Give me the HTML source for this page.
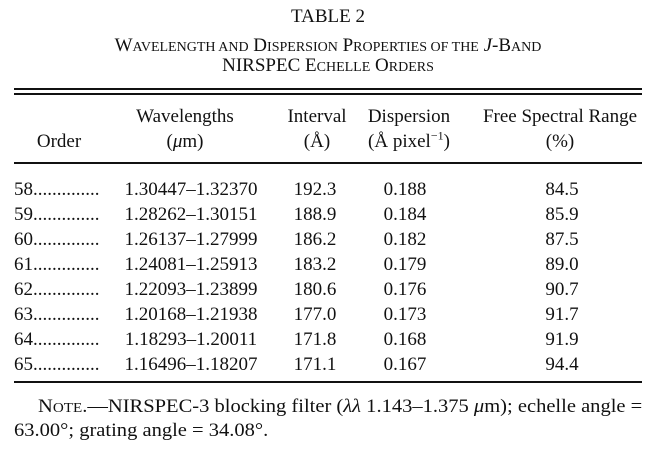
<!DOCTYPE html>
<html><head><meta charset="utf-8"><style>
body{margin:0;background:#fff;width:656px;height:450px;overflow:hidden;position:relative;font-family:"Liberation Serif",serif;color:#111;font-size:19px}
.t{position:absolute;white-space:nowrap;line-height:1}
.c{transform:translateX(-50%)}
.r{position:absolute;left:14px;width:628px;background:#111}
.sc{font-size:14px}
.n{transform-origin:left;transform:scaleX(1.08)}
</style></head><body>
<div class="t c" style="left:328px;top:7px">TABLE 2</div>
<div class="t c" style="left:328px;top:36px">W<span class="sc">AVELENGTH AND</span> D<span class="sc">ISPERSION</span> P<span class="sc">ROPERTIES OF THE</span> <i>J</i>-B<span class="sc">AND</span></div>
<div class="t c" style="left:328px;top:56px">NIRSPEC E<span class="sc">CHELLE</span> O<span class="sc">RDERS</span></div>
<div class="r" style="top:88px;height:2px"></div>
<div class="r" style="top:93px;height:2px"></div>
<div class="t c" style="left:59px;top:132px">Order</div>
<div class="t c" style="left:185px;top:107px">Wavelengths</div>
<div class="t c" style="left:185px;top:132px">(<i>μ</i>m)</div>
<div class="t c" style="left:317px;top:107px">Interval</div>
<div class="t c" style="left:317px;top:132px">(Å)</div>
<div class="t c" style="left:409px;top:107px">Dispersion</div>
<div class="t c" style="left:409px;top:132px">(Å pixel<sup style="font-size:12px;line-height:0">−1</sup>)</div>
<div class="t c" style="left:560px;top:107px">Free Spectral Range</div>
<div class="t c" style="left:560px;top:132px">(%)</div>
<div class="r" style="top:162px;height:2px"></div>
<div class="r" style="top:381px;height:2px"></div>
<div class="t n" style="left:38px;top:397px">N<span class="sc">OTE</span>.—NIRSPEC-3 blocking filter (<i>λλ</i> 1.143–1.375 <i>μ</i>m); echelle angle =</div>
<div class="t n" style="left:14px;top:421px">63.00°; grating angle = 34.08°.</div>
<div class="t" style="left:14px;top:180px">58..............</div><div class="t c" style="left:191px;top:180px">1.30447–1.32370</div><div class="t c" style="left:315px;top:180px">192.3</div><div class="t c" style="left:405px;top:180px">0.188</div><div class="t c" style="left:562px;top:180px">84.5</div>
<div class="t" style="left:14px;top:205px">59..............</div><div class="t c" style="left:191px;top:205px">1.28262–1.30151</div><div class="t c" style="left:315px;top:205px">188.9</div><div class="t c" style="left:405px;top:205px">0.184</div><div class="t c" style="left:562px;top:205px">85.9</div>
<div class="t" style="left:14px;top:230px">60..............</div><div class="t c" style="left:191px;top:230px">1.26137–1.27999</div><div class="t c" style="left:315px;top:230px">186.2</div><div class="t c" style="left:405px;top:230px">0.182</div><div class="t c" style="left:562px;top:230px">87.5</div>
<div class="t" style="left:14px;top:255px">61..............</div><div class="t c" style="left:191px;top:255px">1.24081–1.25913</div><div class="t c" style="left:315px;top:255px">183.2</div><div class="t c" style="left:405px;top:255px">0.179</div><div class="t c" style="left:562px;top:255px">89.0</div>
<div class="t" style="left:14px;top:280px">62..............</div><div class="t c" style="left:191px;top:280px">1.22093–1.23899</div><div class="t c" style="left:315px;top:280px">180.6</div><div class="t c" style="left:405px;top:280px">0.176</div><div class="t c" style="left:562px;top:280px">90.7</div>
<div class="t" style="left:14px;top:305px">63..............</div><div class="t c" style="left:191px;top:305px">1.20168–1.21938</div><div class="t c" style="left:315px;top:305px">177.0</div><div class="t c" style="left:405px;top:305px">0.173</div><div class="t c" style="left:562px;top:305px">91.7</div>
<div class="t" style="left:14px;top:330px">64..............</div><div class="t c" style="left:191px;top:330px">1.18293–1.20011</div><div class="t c" style="left:315px;top:330px">171.8</div><div class="t c" style="left:405px;top:330px">0.168</div><div class="t c" style="left:562px;top:330px">91.9</div>
<div class="t" style="left:14px;top:355px">65..............</div><div class="t c" style="left:191px;top:355px">1.16496–1.18207</div><div class="t c" style="left:315px;top:355px">171.1</div><div class="t c" style="left:405px;top:355px">0.167</div><div class="t c" style="left:562px;top:355px">94.4</div>
</body></html>
